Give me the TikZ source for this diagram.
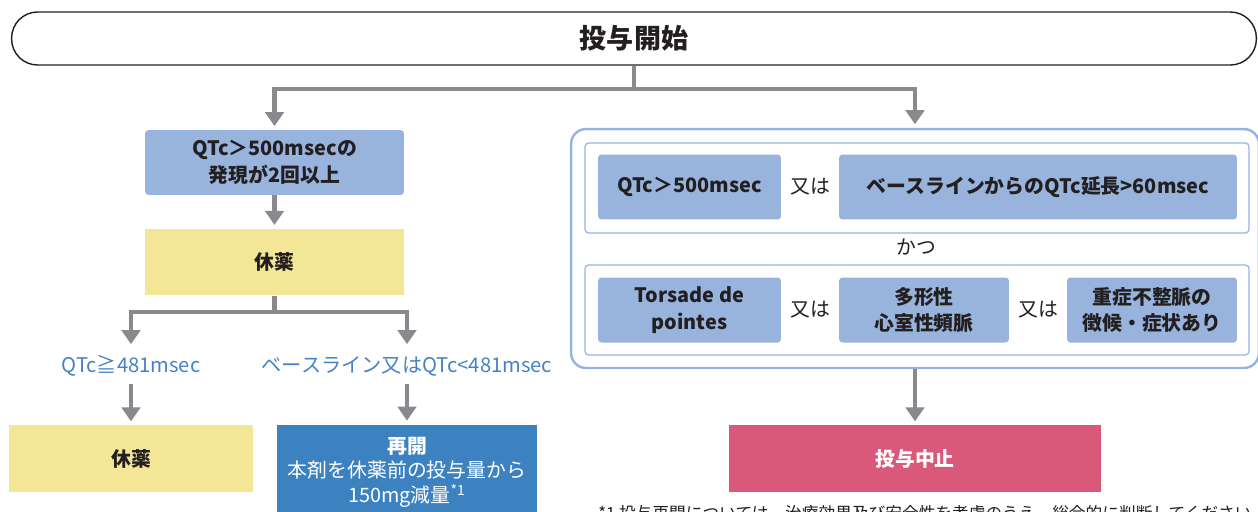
\documentclass[tikz,border=0pt]{standalone}
\usepackage{fontspec}
\setmainfont{Noto Sans CJK JP}
\usetikzlibrary{arrows.meta}
\definecolor{flowgray}{HTML}{8A8A8E}
\definecolor{condblue}{HTML}{98B3DC}
\definecolor{panelblue}{HTML}{96B4E1}
\definecolor{restyellow}{HTML}{F3E696}
\definecolor{resumeblue}{HTML}{3D82C0}
\definecolor{stoppink}{HTML}{DA587A}
\definecolor{branchblue}{HTML}{4682C3}
\definecolor{inkdark}{HTML}{231F20}
\begin{document}
\begin{tikzpicture}
	[x=0.02cm,y=-0.02cm,
	 box/.style={align=center,inner sep=0pt,text=inkdark,font=\fontsize{11.3}{15}\selectfont\bfseries},
	 startbox/.style={draw=inkdark,line width=0.8pt,fill=white,rounded corners=0.52cm,
	   minimum width=24.9cm,minimum height=1.06cm,text=inkdark,font=\fontsize{15.4}{18}\selectfont\bfseries},
	 condbox/.style={box,fill=condblue,rounded corners=2pt,minimum height=1.3cm},
	 restbox/.style={box,fill=restyellow,minimum height=1.33cm},
	 resumebox/.style={box,fill=resumeblue,text=white,font=\fontsize{11.3}{14}\selectfont,
	   minimum width=5.2cm,minimum height=1.9cm},
	 stopbox/.style={box,fill=stoppink,text=white,minimum width=7.46cm,minimum height=1.33cm},
	 panelbox/.style={draw=panelblue,line width=1.4pt,rounded corners=0.3cm,
	   minimum width=13.76cm,minimum height=4.78cm},
	 rowbox/.style={draw=panelblue,line width=0.7pt,fill=white,rounded corners=2pt,
	   minimum width=13.28cm,minimum height=1.8cm},
	 orword/.style={inner sep=0pt,text=inkdark,font=\fontsize{11.3}{14}\selectfont},
	 branchtext/.style={inner sep=0pt,minimum height=0.72cm,text=branchblue,
	   font=\fontsize{11.5}{14}\selectfont},
	 flow/.style={draw=flowgray,line width=2.4pt,->,shorten >=2pt},
	 >={Triangle[length=8pt,width=10.5pt]}]
    \useasboundingbox (0,0) rectangle (1258,511);
    % start
    \node[startbox] (start) at (634,38.5) {投与開始};
    \coordinate (split) at (634,89);
    % left branch
    \node[condbox,minimum width=5.18cm] (cond) at (274.5,162.5) {QTc＞500msecの\\発現が2回以上};
    \node[restbox,minimum width=5.18cm] (rest) at (274.5,262) {休薬};
    \coordinate (fork) at (274.5,312);
    \node[branchtext] (high) at (131,366) {QTc≧481msec};
    \node[branchtext] (low) at (407,366) {ベースライン又はQTc<481msec};
    \node[restbox,minimum width=4.9cm] (rest2) at (131,458.5) {休薬};
    \node[resumebox] (resume) at (407,472) {\textbf{再開}\\本剤を休薬前の投与量から\\150mg減量\textsuperscript{*1}};
    % right branch
    \node[panelbox] (panel) at (915,248.5) {};
    \node[rowbox] (row1) at (917,188) {};
    \node[rowbox] (row2) at (917,310) {};
    \node[condbox,minimum width=3.66cm] (qtc) at (689.5,187) {QTc＞500msec};
    \node[orword] (or1) at (810,187) {又は};
    \node[condbox,minimum width=7.96cm] (base) at (1038,187) {ベースラインからのQTc延長>60msec};
    \node[orword] (and) at (916,247) {かつ};
    \node[condbox,minimum width=3.66cm] (tdp) at (689.5,310) {Torsade de\\pointes};
    \node[orword] (or2) at (810,310) {又は};
    \node[condbox,minimum width=3.4cm] (poly) at (924,310) {多形性\\心室性頻脈};
    \node[orword] (or3) at (1038,310) {又は};
    \node[condbox,minimum width=3.4cm] (severe) at (1152,310) {重症不整脈の\\徴候・症状あり};
    \node[stopbox] (stop) at (915,458.5) {投与中止};
    \node[anchor=north west,inner sep=0pt,text=inkdark,font=\fontsize{9.5}{11}\selectfont] (note) at (598,505)
      {*1 投与再開については、治療効果及び安全性を考慮のうえ、総合的に判断してください。};
    % connectors
    \draw[flow] (start) -- (split) -| (cond);
    \draw[flow] (split) -| (panel);
    \draw[flow] (cond) -- (rest);
    \draw[flow] (rest) -- (fork) -| (high);
    \draw[flow] (fork) -| (low);
    \draw[flow] (high) -- (rest2);
    \draw[flow] (low) -- (resume);
    \draw[flow] (panel) -- (stop);
\end{tikzpicture}
\end{document}
